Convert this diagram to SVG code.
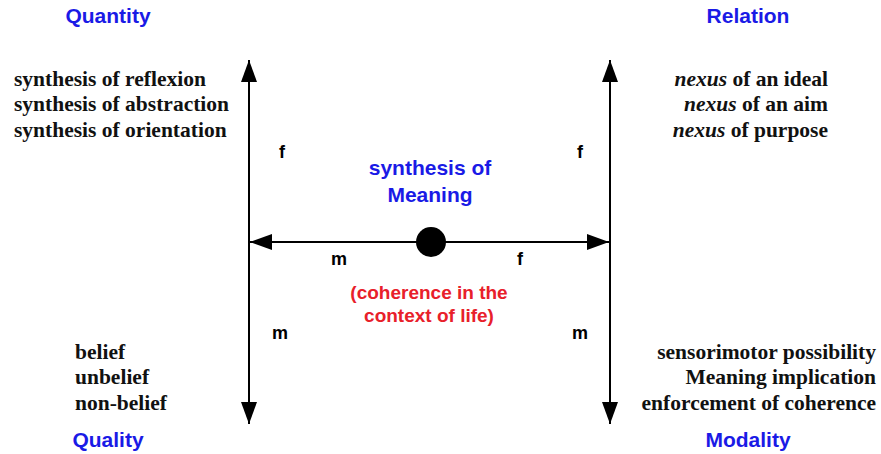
<svg xmlns="http://www.w3.org/2000/svg" width="881" height="454" viewBox="0 0 881 454">
<style>
.h{font-family:"Liberation Sans",Arial,sans-serif;font-weight:bold;font-size:21px;fill:#1a1ae6;text-anchor:middle}
.s{font-family:"Liberation Serif","Times New Roman",serif;font-weight:bold;font-size:21.5px;fill:#111}
.r{text-anchor:end}
.l{font-family:"Liberation Sans",Arial,sans-serif;font-weight:bold;font-size:18px;fill:#000;text-anchor:middle}
.c{font-family:"Liberation Sans",Arial,sans-serif;font-weight:bold;font-size:19px;fill:#e8202a;text-anchor:middle}
.ln{stroke:#000;stroke-width:2;fill:none}
</style>
<defs>
<marker id="ah" viewBox="0 0 22 16" refX="22" refY="8" markerWidth="22" markerHeight="16" markerUnits="userSpaceOnUse" orient="auto">
<path d="M0,0 L22,8 L0,16 Z" fill="#000"/>
</marker>
</defs>
<g id="connectors">
<line class="ln" x1="249" y1="242" x2="249" y2="60" marker-end="url(#ah)"/>
<line class="ln" x1="249" y1="242" x2="249" y2="424" marker-end="url(#ah)"/>
<line class="ln" x1="610" y1="242" x2="610" y2="60" marker-end="url(#ah)"/>
<line class="ln" x1="610" y1="242" x2="610" y2="424" marker-end="url(#ah)"/>
<line class="ln" x1="431" y1="242" x2="250" y2="242" marker-end="url(#ah)"/>
<line class="ln" x1="431" y1="242" x2="609" y2="242" marker-end="url(#ah)"/>
<text class="l" x="282" y="158">f</text>
<text class="l" x="580" y="158">f</text>
<text class="l" x="280" y="339">m</text>
<text class="l" x="580" y="339">m</text>
<text class="l" x="339" y="265">m</text>
<text class="l" x="520" y="265">f</text>
</g>
<g id="center">
<circle cx="431" cy="242" r="15" fill="#000"/>
<text class="h" x="430" y="175">synthesis of</text>
<text class="h" x="430" y="202">Meaning</text>
<text class="c" x="429" y="299">(coherence in the</text>
<text class="c" x="429" y="322">context of life)</text>
</g>
<g id="quantity">
<text class="h" x="108" y="23">Quantity</text>
<text class="s" x="14" y="86">synthesis of reflexion</text>
<text class="s" x="14" y="111">synthesis of abstraction</text>
<text class="s" x="14" y="137">synthesis of orientation</text>
</g>
<g id="relation">
<text class="h" x="748" y="23">Relation</text>
<text class="s r" x="828" y="86"><tspan font-style="italic">nexus</tspan> of an ideal</text>
<text class="s r" x="828" y="111"><tspan font-style="italic">nexus</tspan> of an aim</text>
<text class="s r" x="828" y="137"><tspan font-style="italic">nexus</tspan> of purpose</text>
</g>
<g id="quality">
<text class="h" x="108" y="447">Quality</text>
<text class="s" x="75" y="359">belief</text>
<text class="s" x="75" y="384">unbelief</text>
<text class="s" x="75" y="410">non-belief</text>
</g>
<g id="modality">
<text class="h" x="748" y="447">Modality</text>
<text class="s r" x="876" y="359">sensorimotor possibility</text>
<text class="s r" x="876" y="384">Meaning implication</text>
<text class="s r" x="876" y="410">enforcement of coherence</text>
</g>
</svg>
